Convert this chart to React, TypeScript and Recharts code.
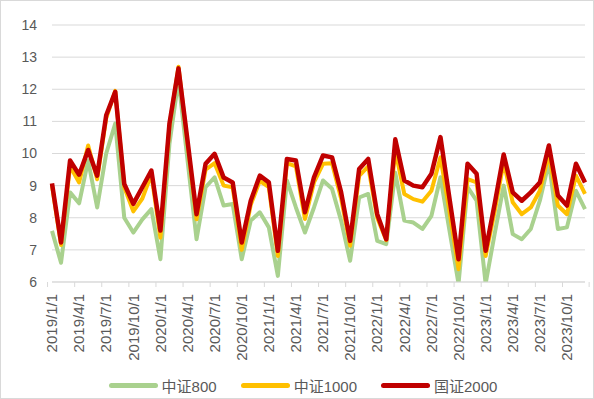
import React from 'react';
import { ComposedChart, Line, XAxis, YAxis, CartesianGrid, Legend } from 'recharts';

const months = [
    '2019/1/1', '2019/2/1', '2019/3/1', '2019/4/1', '2019/5/1', '2019/6/1', '2019/7/1', '2019/8/1', '2019/9/1', '2019/10/1', '2019/11/1', '2019/12/1',
    '2020/1/1', '2020/2/1', '2020/3/1', '2020/4/1', '2020/5/1', '2020/6/1', '2020/7/1', '2020/8/1', '2020/9/1', '2020/10/1', '2020/11/1', '2020/12/1',
    '2021/1/1', '2021/2/1', '2021/3/1', '2021/4/1', '2021/5/1', '2021/6/1', '2021/7/1', '2021/8/1', '2021/9/1', '2021/10/1', '2021/11/1', '2021/12/1',
    '2022/1/1', '2022/2/1', '2022/3/1', '2022/4/1', '2022/5/1', '2022/6/1', '2022/7/1', '2022/8/1', '2022/9/1', '2022/10/1', '2022/11/1', '2022/12/1',
    '2023/1/1', '2023/2/1', '2023/3/1', '2023/4/1', '2023/5/1', '2023/6/1', '2023/7/1', '2023/8/1', '2023/9/1', '2023/10/1', '2023/11/1', '2023/12/1',
];

// 中证800
const csi800 = [
    7.59, 6.6, 8.79, 8.45, 9.78, 8.32, 10.0, 10.93, 8.0, 7.54, 7.95, 8.27,
    6.71, 10.3, 12.3, 9.8, 7.33, 8.95, 9.26, 8.38, 8.43, 6.71, 7.91, 8.17,
    7.7, 6.19, 9.16, 8.32, 7.54, 8.32, 9.16, 8.9, 7.91, 6.66, 8.63, 8.74,
    7.28, 7.18, 9.4, 7.91, 7.85, 7.65, 8.06, 9.26, 7.6, 5.95, 8.95, 8.53,
    5.95, 7.5, 9.0, 7.49, 7.33, 7.65, 8.53, 9.73, 7.65, 7.7, 8.84, 8.27,
];

// 中证1000
const csi1000 = [
    9.0, 7.15, 9.6, 9.1, 10.25, 9.2, 11.1, 11.95, 8.95, 8.2, 8.6, 9.35,
    7.38, 10.85, 12.7, 10.3, 7.95, 9.5, 9.7, 9.0, 8.95, 7.0, 8.4, 9.15,
    8.95, 6.81, 9.7, 9.6, 7.96, 9.1, 9.68, 9.7, 8.6, 7.13, 9.3, 9.6,
    8.0, 7.3, 10.1, 8.74, 8.58, 8.5, 8.84, 9.88, 8.2, 6.4, 9.2, 9.1,
    6.81, 8.2, 9.73, 8.48, 8.11, 8.32, 8.84, 9.99, 8.38, 8.11, 9.31, 8.74,
];

// 国证2000
const cni2000 = [
    9.07, 7.23, 9.78, 9.34, 10.11, 9.31, 11.19, 11.92, 9.05, 8.43, 8.95, 9.47,
    7.6, 10.93, 12.65, 10.4, 8.11, 9.68, 9.99, 9.25, 9.1, 7.23, 8.53, 9.31,
    9.1, 6.97, 9.83, 9.78, 8.17, 9.26, 9.94, 9.88, 8.8, 7.28, 9.52, 9.83,
    8.11, 7.33, 10.44, 9.16, 9.0, 8.95, 9.37, 10.51, 8.6, 6.71, 9.68, 9.37,
    6.97, 8.43, 9.97, 8.79, 8.53, 8.79, 9.1, 10.25, 8.69, 8.38, 9.68, 9.1,
];

const yTicks = [6, 7, 8, 9, 10, 11, 12, 13, 14];

const series = [
    { key: 'csi800', name: '中证800', color: '#a9d18e', width: 4 },
    { key: 'csi1000', name: '中证1000', color: '#ffc000', width: 4 },
    { key: 'cni2000', name: '国证2000', color: '#c00000', width: 4.5 },
];

const data = months.map((month, i) => ({
    month,
    csi800: csi800[i],
    csi1000: csi1000[i],
    cni2000: cni2000[i],
}));

const FONT = '"Liberation Sans", "Noto Sans CJK SC", sans-serif';
const TEXT_COLOR = '#595959';
const GRID_COLOR = '#d9d9d9';
const HALF_BAND = 533 / months.length / 2;

// rotated date label + tick mark on the category boundary
const DateTick = (props: any) => {
    const { x, y, payload, index, visibleTicksCount } = props;
    const isLast = index === visibleTicksCount - 1;
    return (
        <g>
            <line x1={x - HALF_BAND} x2={x - HALF_BAND} y1={y - 8} y2={y - 3} stroke={GRID_COLOR} />
            {isLast && (
                <line x1={x + HALF_BAND * 5} x2={x + HALF_BAND * 5} y1={y - 8} y2={y - 3} stroke={GRID_COLOR} />
            )}
            <text
                transform={`translate(${x},${y + 4}) rotate(-90)`}
                textAnchor="end"
                dy="0.35em"
                fill={TEXT_COLOR}
                fontSize={15}
                fontFamily={FONT}
            >
                {payload.value}
            </text>
        </g>
    );
};

const LegendContent = () => (
    <div
        style={{
            display: 'flex',
            justifyContent: 'center',
            alignItems: 'center',
            gap: 24,
            height: 24,
            paddingLeft: 20,
            fontFamily: FONT,
            fontSize: 15,
            color: TEXT_COLOR,
        }}
    >
        {series.map((s) => (
            <div key={s.key} style={{ display: 'flex', alignItems: 'center' }}>
                <span
                    style={{
                        display: 'inline-block',
                        width: 49,
                        height: 5,
                        borderRadius: 3,
                        background: s.color,
                        marginRight: 4,
                    }}
                />
                <span>{s.name}</span>
            </div>
        ))}
    </div>
);

const App: React.FC = () => {
    return (
        <div
            style={{
                position: 'absolute',
                left: 0,
                top: 0,
                width: 594,
                height: 399,
                boxSizing: 'border-box',
                border: `1px solid ${GRID_COLOR}`,
                background: '#fff',
            }}
        >
            <ComposedChart
                width={592}
                height={397}
                data={data}
                margin={{ top: 24, right: 8, left: 0, bottom: 1 }}
            >
                <CartesianGrid vertical={false} stroke={GRID_COLOR} />
                <XAxis
                    dataKey="month"
                    interval={2}
                    height={91}
                    tickLine={false}
                    axisLine={{ stroke: GRID_COLOR }}
                    tick={<DateTick />}
                />
                <YAxis
                    domain={[6, 14]}
                    ticks={yTicks}
                    allowDataOverflow
                    width={51}
                    axisLine={false}
                    tickLine={false}
                    tickMargin={9}
                    tick={{ fill: TEXT_COLOR, fontSize: 14, fontFamily: FONT }}
                />
                <Legend verticalAlign="bottom" content={<LegendContent />} />
                {series.map((s) => (
                    <Line
                        key={s.key}
                        dataKey={s.key}
                        name={s.name}
                        stroke={s.color}
                        strokeWidth={s.width}
                        dot={false}
                        activeDot={false}
                        strokeLinejoin="round"
                        isAnimationActive={false}
                    />
                ))}
            </ComposedChart>
        </div>
    );
};

export default App;
